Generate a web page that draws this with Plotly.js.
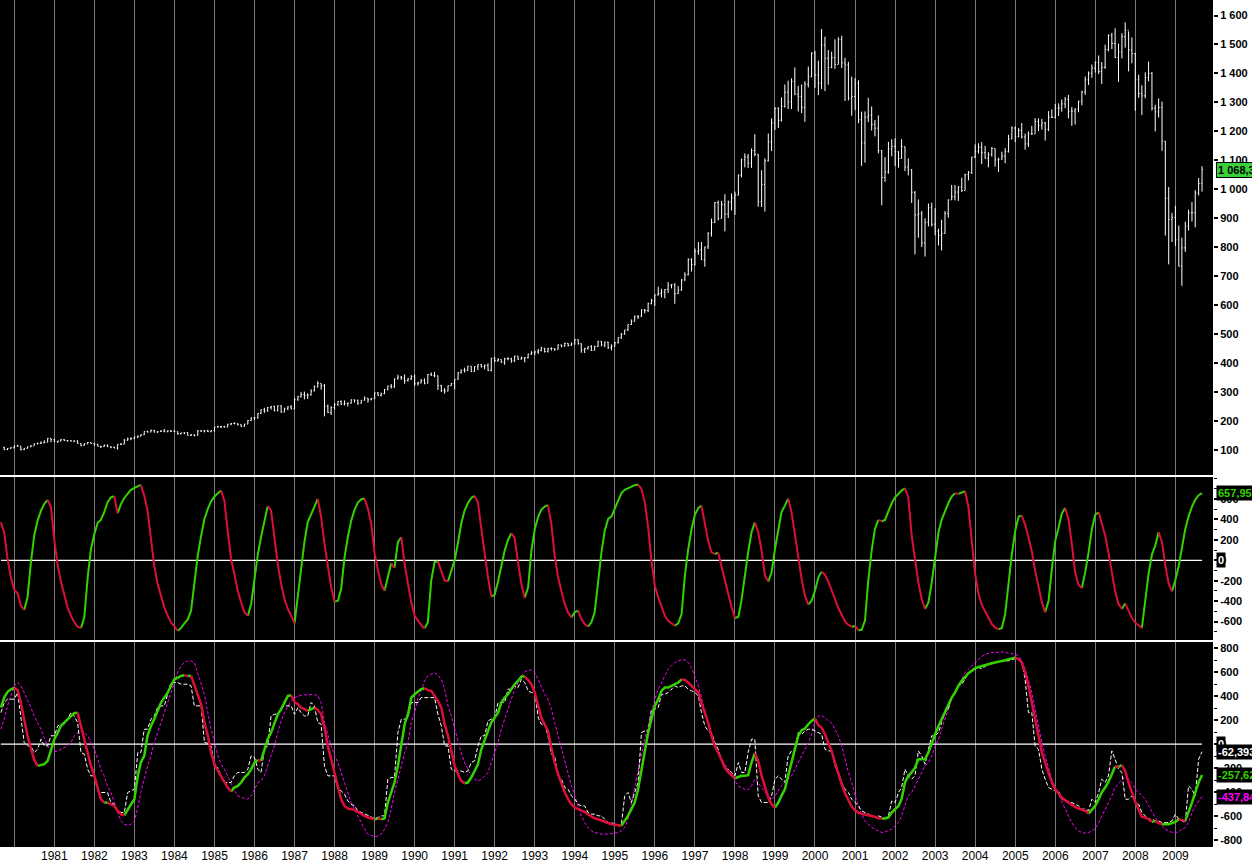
<!DOCTYPE html>
<html>
<head>
<meta charset="utf-8">
<script src="https://cdn.plot.ly/plotly-3.0.1.min.js"></script>
<style>
html,body{margin:0;padding:0;background:#fff;}
#chart{width:1252px;height:866px;}
</style>
</head>
<body>
<div id="chart"></div>
<script>
// ---------------- DATA ----------------
// Monthly bars: Oct 1979 .. Sep 2009
const priceStart = [1979, 10];
const open = [
109.32,101.82,106.16,
107.94,114.16,113.66,102.09,106.29,111.24,114.24,121.67,122.38,125.46,127.47,140.52,
135.76,129.55,131.27,136.00,132.81,132.59,131.21,130.92,122.79,116.18,121.89,126.35,
122.55,120.40,113.11,111.96,116.44,111.88,109.61,107.09,119.51,120.42,133.71,138.54,
140.64,145.30,148.06,152.96,164.42,162.39,168.11,162.56,164.40,166.07,163.55,166.40,
164.93,163.41,157.06,159.18,160.05,150.55,153.18,150.66,166.68,166.10,166.09,163.58,
167.24,179.63,181.18,180.66,179.83,189.55,191.85,190.92,188.63,182.08,189.82,202.17,
211.28,211.78,226.92,238.90,235.52,247.35,250.84,236.12,252.93,231.32,243.98,249.22,
242.17,274.08,284.20,291.70,288.36,290.10,304.00,318.66,329.80,321.83,251.79,230.30,
247.08,257.07,267.82,258.89,261.33,262.16,273.50,272.02,261.52,271.91,278.97,273.70,
277.72,297.47,288.86,294.87,309.64,320.52,317.98,346.08,351.45,349.15,340.36,345.99,
353.40,329.08,331.89,339.94,330.80,361.23,358.02,356.15,322.56,306.05,304.00,322.22,
330.22,343.93,367.07,375.22,375.34,389.83,371.16,387.81,395.43,387.86,392.46,375.22,
417.09,408.79,412.70,403.69,414.95,415.35,408.14,424.21,414.03,417.80,418.68,431.35,
435.71,438.78,443.38,451.67,440.19,450.19,450.53,448.13,463.56,458.93,467.83,461.79,
466.45,481.61,467.14,445.77,450.91,456.50,444.27,458.26,475.49,462.69,472.35,453.69,
459.27,470.42,487.39,500.71,514.71,533.40,544.75,562.06,561.88,584.41,581.50,605.37,
615.93,636.02,640.43,645.50,654.17,669.12,670.63,639.95,651.99,687.31,705.27,757.02,
740.74,786.16,790.82,757.12,801.34,848.28,885.14,954.31,899.47,947.28,914.62,955.40,
970.43,980.28,1049.34,1101.75,1111.75,1090.82,1133.84,1120.67,957.28,1017.01,1098.67,1163.63,
1229.23,1279.64,1238.33,1286.37,1335.18,1301.84,1372.71,1328.72,1320.41,1282.71,1362.93,1388.91,
1469.25,1394.46,1366.42,1498.58,1452.43,1420.60,1454.60,1430.83,1517.68,1436.51,1429.40,1314.95,
1320.28,1366.01,1239.94,1160.33,1249.46,1255.82,1224.42,1211.23,1133.58,1040.94,1059.78,1139.45,
1148.08,1130.20,1106.73,1147.39,1076.92,1067.14,989.82,911.62,916.07,815.28,885.76,936.31,
879.82,855.70,841.15,848.18,916.92,963.59,974.50,990.31,1008.01,995.97,1050.71,1058.20,
1111.92,1131.13,1144.94,1126.21,1107.30,1120.68,1140.84,1101.72,1104.24,1114.58,1130.20,1173.82,
1211.92,1181.27,1203.60,1180.59,1156.85,1191.50,1191.33,1234.18,1220.33,1228.81,1207.01,1249.48,
1248.29,1280.08,1280.66,1294.83,1310.61,1270.09,1270.20,1276.66,1303.82,1335.85,1377.94,1400.63,
1418.30,1438.24,1406.82,1420.86,1482.37,1530.62,1503.35,1455.27,1473.99,1526.75,1549.38,1481.14,
1468.36,1378.55,1330.63,1322.70,1385.59,1400.38,1280.00,1267.38,1282.83,1166.36,968.75,896.24,
903.25,825.88,735.09,797.87,872.81,919.14,919.32,987.48,1020.62
];
const high = [
111.3,107.0,110.0,
115.2,118.4,113.8,106.3,111.9,117.1,122.9,126.0,130.4,134.0,141.9,141.0,
138.1,131.9,137.7,138.4,134.2,134.0,133.5,134.0,123.0,123.9,127.5,126.9,
122.8,121.4,113.8,119.3,119.5,112.1,112.1,120.3,124.7,138.4,143.0,143.7,
146.4,149.9,154.2,164.9,167.1,170.6,169.6,164.4,168.9,172.7,168.1,168.8,
169.5,163.8,159.9,161.0,162.1,155.3,153.9,168.8,167.7,168.9,170.4,168.3,
180.3,183.9,183.2,183.6,190.3,192.5,196.2,192.7,188.6,190.7,203.4,213.1,
213.0,227.6,240.6,245.9,248.3,251.9,253.0,254.2,254.5,246.1,251.2,254.9,
280.0,287.4,301.0,301.9,296.2,309.7,323.0,338.0,329.6,328.0,257.2,251.1,
262.7,268.6,271.4,271.3,263.4,275.0,274.0,274.0,272.6,284.8,280.2,279.9,
298.1,300.3,298.3,310.5,322.1,328.0,347.0,360.2,356.0,361.0,348.6,359.0,
360.6,336.1,345.7,347.3,362.3,367.9,369.8,357.0,325.3,314.0,323.0,331.4,
344.0,369.7,378.3,384.5,390.5,389.8,389.5,396.6,396.3,395.5,399.0,418.3,
420.8,417.3,413.2,418.4,420.5,418.5,425.5,425.1,422.4,420.7,432.2,441.3,
443.0,449.5,456.7,452.3,453.1,455.0,451.0,464.4,463.6,470.9,469.0,471.3,
482,482,468,453,458,462,460,477,476,474,474,465,
473,490,504,515,534,551,564,565,586,587,609,622,
636,664,657,656,680,673,676,666,690,714,762,762,
796,818,818,802,852,899,956,961,960,983,961,986,
992,1051,1106,1124,1122,1141,1190,1121,1066,1107,1193,1245,
1283,1283,1317,1362,1375,1383,1421,1357,1362,1373,1424,1473,
1478,1444,1553,1527,1481,1475,1518,1525,1530,1454,1440,1389,
1384,1376,1268,1269,1316,1286,1239,1255,1136,1111,1164,1173,
1176,1131,1173,1147,1107,1070,994,965,925,900,951,954,
935,864,895,925,965,1015,1015,1011,1040,1054,1063,1112,
1155,1159,1163,1150,1128,1146,1141,1109,1130,1142,1188,1217,
1217,1212,1229,1192,1200,1219,1246,1245,1243,1233,1270,1276,
1295,1297,1310,1319,1326,1284,1280,1306,1340,1389,1407,1431,
1441,1462,1439,1499,1535,1540,1556,1503,1539,1576,1545,1524,
1471,1396,1359,1404,1441,1405,1292,1314,1303,1167,1008,919,
943,875,833,888,930,956,997,1039,1080
];
const low = [
99.6,99.9,105.0,
105.9,112.4,98.2,99.8,105.2,110.5,114.9,119.8,121.0,123.5,126.3,127.3,
127.9,124.7,129.9,131.5,128.9,130.0,127.7,122.3,112.8,115.0,120.3,121.8,
114.7,112.8,106.7,111.5,110.7,106.3,106.6,101.4,118.0,120.2,132.5,133.8,
137.6,141.6,147.7,152.0,160.5,161.7,160.4,158.5,163.0,161.7,161.4,162.3,
162.8,152.2,153.6,154.4,150.3,148.8,147.3,150.9,162.4,160.9,162.5,161.5,
163.4,177.6,175.9,177.9,178.4,185.7,189.4,184.7,179.7,181.3,189.1,200.1,
203.5,208.4,224.3,228.3,232.1,239.6,233.6,233.7,228.7,230.6,237.2,241.0,
242.2,270.1,281.5,275.0,276.4,288.5,303.0,315.8,308.6,216.5,227.7,221.2,
239.4,253.0,256.1,254.4,250.9,260.6,263.7,256.0,261.2,270.9,263.6,272.0,
275.3,286.9,285.4,293.0,306.2,312.6,315.3,343.4,342.3,328.9,336.2,341.5,
321.4,322.1,330.6,327.0,330.1,356.3,351.0,307.4,300.1,294.5,302.8,321.4,
309.4,343.1,364.2,367.7,373.4,369.0,370.9,375.7,384.7,379.0,373.3,371.4,
403.4,404.5,400.9,394.5,409.9,401.4,403.9,410.8,412.6,402.7,416.5,428.6,
426.9,431.9,440.9,436.7,436.6,443.3,442.5,446.9,454.8,457.5,457.1,460.3,
464,464,436,435,447,442,444,456,458,455,449,444,
457,468,484,498,511,532,544,552,560,572,576,603,
597,633,627,624,642,658,605,639,650,684,703,716,
737,774,756,733,794,837,884,893,899,855,901,927,
912,979,1041,1076,1074,1074,1114,940,939,923,1096,1132,
1205,1212,1234,1282,1277,1277,1326,1269,1263,1233,1352,1387,
1350,1325,1346,1339,1361,1418,1416,1431,1419,1305,1307,1254,
1274,1228,1081,1092,1232,1203,1183,1124,945,1026,1054,1114,
1081,1075,1107,1063,1048,953,775,833,801,768,872,872,
841,806,789,847,902,963,962,960,991,996,1031,1053,
1108,1124,1087,1106,1076,1113,1078,1060,1102,1090,1127,1173,
1163,1180,1176,1137,1146,1188,1192,1201,1206,1168,1201,1246,
1245,1253,1268,1280,1245,1219,1224,1266,1290,1326,1360,1385,
1403,1398,1364,1416,1476,1484,1453,1371,1452,1489,1407,1435,
1271,1316,1257,1314,1373,1272,1200,1248,1133,840,741,818,
805,734,667,784,858,889,869,979,992
];
const close = [
101.82,106.16,107.94,
114.16,113.66,102.09,106.29,111.24,114.24,121.67,122.38,125.46,127.47,140.52,135.76,
129.55,131.27,136.00,132.81,132.59,131.21,130.92,122.79,116.18,121.89,126.35,122.55,
120.40,113.11,111.96,116.44,111.88,109.61,107.09,119.51,120.42,133.71,138.54,140.64,
145.30,148.06,152.96,164.42,162.39,168.11,162.56,164.40,166.07,163.55,166.40,164.93,
163.41,157.06,159.18,160.05,150.55,153.18,150.66,166.68,166.10,166.09,163.58,167.24,
179.63,181.18,180.66,179.83,189.55,191.85,190.92,188.63,182.08,189.82,202.17,211.28,
211.78,226.92,238.90,235.52,247.35,250.84,236.12,252.93,231.32,243.98,249.22,242.17,
274.08,284.20,291.70,288.36,290.10,304.00,318.66,329.80,321.83,251.79,230.30,247.08,
257.07,267.82,258.89,261.33,262.16,273.50,272.02,261.52,271.91,278.97,273.70,277.72,
297.47,288.86,294.87,309.64,320.52,317.98,346.08,351.45,349.15,340.36,345.99,353.40,
329.08,331.89,339.94,330.80,361.23,358.02,356.15,322.56,306.05,304.00,322.22,330.22,
343.93,367.07,375.22,375.34,389.83,371.16,387.81,395.43,387.86,392.46,375.22,417.09,
408.79,412.70,403.69,414.95,415.35,408.14,424.21,414.03,417.80,418.68,431.35,435.71,
438.78,443.38,451.67,440.19,450.19,450.53,448.13,463.56,458.93,467.83,461.79,466.45,
481.61,467.14,445.77,450.91,456.50,444.27,458.26,475.49,462.69,472.35,453.69,459.27,
470.42,487.39,500.71,514.71,533.40,544.75,562.06,561.88,584.41,581.50,605.37,615.93,
636.02,640.43,645.50,654.17,669.12,670.63,639.95,651.99,687.31,705.27,757.02,740.74,
786.16,790.82,757.12,801.34,848.28,885.14,954.31,899.47,947.28,914.62,955.40,970.43,
980.28,1049.34,1101.75,1111.75,1090.82,1133.84,1120.67,957.28,1017.01,1098.67,1163.63,1229.23,
1279.64,1238.33,1286.37,1335.18,1301.84,1372.71,1328.72,1320.41,1282.71,1362.93,1388.91,1469.25,
1394.46,1366.42,1498.58,1452.43,1420.60,1454.60,1430.83,1517.68,1436.51,1429.40,1314.95,1320.28,
1366.01,1239.94,1160.33,1249.46,1255.82,1224.42,1211.23,1133.58,1040.94,1059.78,1139.45,1148.08,
1130.20,1106.73,1147.39,1076.92,1067.14,989.82,911.62,916.07,815.28,885.76,936.31,879.82,
855.70,841.15,848.18,916.92,963.59,974.50,990.31,1008.01,995.97,1050.71,1058.20,1111.92,
1131.13,1144.94,1126.21,1107.30,1120.68,1140.84,1101.72,1104.24,1114.58,1130.20,1173.82,1211.92,
1181.27,1203.60,1180.59,1156.85,1191.50,1191.33,1234.18,1220.33,1228.81,1207.01,1249.48,1248.29,
1280.08,1280.66,1294.83,1310.61,1270.09,1270.20,1276.66,1303.82,1335.85,1377.94,1400.63,1418.30,
1438.24,1406.82,1420.86,1482.37,1530.62,1503.35,1455.27,1473.99,1526.75,1549.38,1481.14,1468.36,
1378.55,1330.63,1322.70,1385.59,1400.38,1280.00,1267.38,1282.83,1166.36,968.75,896.24,903.25,
825.88,735.09,797.87,872.81,919.14,919.32,987.48,1020.62,1068.3
];

// Indicators: Sep 1979 .. Sep 2009
const indStart = [1979, 9];
// middle panel oscillator
const osc = [
373,275,13,-167,-291,-324,-445,-487,-363,-20,
242,389,487,553,592,520,193,-52,-206,-330,
-461,-543,-608,-651,-664,-559,-167,111,258,370,
396,471,569,618,628,461,553,611,657,690,
710,726,739,634,487,193,-52,-232,-356,-461,
-543,-608,-651,-690,-664,-618,-582,-494,-199,46,
242,405,504,579,625,661,683,585,291,13,
-134,-298,-412,-510,-543,-428,-183,62,226,389,
530,487,226,-36,-232,-379,-477,-543,-615,-330,
-85,177,373,455,536,602,422,160,-69,-265,
-405,-396,-281,29,226,389,494,566,598,605,
504,356,62,-101,-232,-298,-167,-29,-75,177,
226,-36,-232,-412,-543,-598,-634,-667,-608,-199,
-20,-10,-108,-199,-206,-101,3,177,356,487,
559,611,631,569,307,46,-167,-356,-337,-206,
-69,95,199,265,219,-20,-232,-370,-265,95,
307,428,494,526,540,356,46,-167,-304,-428,
-513,-559,-507,-494,-576,-625,-651,-608,-510,-199,
78,291,405,428,504,585,657,690,706,719,
736,742,700,569,324,-3,-249,-363,-461,-543,
-592,-615,-641,-618,-526,-150,111,307,448,513,
536,340,193,78,62,75,-52,-199,-330,-461,
-566,-553,-396,-150,78,275,373,275,95,-150,
-209,-118,111,291,471,536,605,471,258,13,
-183,-347,-435,-396,-298,-167,-111,-141,-206,-291,
-389,-468,-533,-598,-634,-651,-647,-683,-683,-592,
-199,95,307,396,383,396,481,559,618,657,
683,706,618,242,3,-216,-379,-477,-412,-216,
46,275,396,481,559,625,657,651,667,677,
520,193,-134,-330,-435,-500,-566,-625,-657,-677,
-664,-526,-199,62,291,428,438,350,226,88,
-101,-265,-412,-510,-396,-85,193,324,455,513,
405,160,-118,-239,-271,-118,78,307,448,471,
373,242,78,-134,-304,-428,-477,-422,-500,-566,
-611,-634,-664,-379,-134,56,144,275,177,-52,
-232,-304,-193,-52,111,307,428,526,592,638,
657.95
];
// bottom panel: smoothed line (green/red)
const sig = [
306,389,437,459,470,453,348,195,70,-36,
-131,-181,-175,-167,-139,-42,42,97,153,181,
209,236,259,262,153,42,-70,-181,-264,-376,
-459,-487,-487,-501,-515,-556,-584,-593,-542,-501,
-459,-264,-153,-97,70,153,209,278,348,389,
431,487,542,556,570,576,570,570,487,403,
334,181,70,-70,-167,-223,-264,-320,-362,-395,
-362,-348,-320,-278,-250,-209,-153,-131,-139,-42,
42,97,181,250,292,348,403,409,353,334,
306,292,278,292,306,287,250,139,-14,-125,
-236,-376,-459,-515,-537,-542,-548,-565,-584,-598,
-612,-620,-626,-620,-626,-620,-487,-403,-320,-181,
14,167,250,389,417,437,459,467,451,445,
403,362,306,167,70,-56,-181,-250,-306,-325,
-320,-278,-223,-167,-42,42,111,181,223,264,
348,389,417,459,501,529,565,565,537,501,
431,320,223,167,111,-28,-153,-250,-334,-403,
-459,-501,-529,-540,-548,-565,-587,-604,-618,-626,
-637,-645,-659,-668,-670,-676,-682,-640,-598,-542,
-487,-376,-209,-70,97,209,320,376,445,473,
473,487,501,515,540,537,515,487,459,431,
348,264,181,70,-14,-70,-139,-195,-236,-264,
-284,-273,-264,-264,-259,-153,-75,-139,-264,-362,
-445,-501,-529,-487,-431,-376,-264,-153,-42,70,
117,131,167,195,214,159,139,83,14,-56,
-153,-250,-334,-409,-473,-520,-554,-573,-581,-587,
-593,-595,-606,-618,-620,-620,-612,-570,-542,-515,
-459,-320,-264,-236,-195,-125,-125,-125,-70,14,
83,153,209,264,320,389,431,487,529,562,
593,612,634,645,654,659,668,676,682,687,
696,701,709,718,723,709,682,598,487,348,
236,70,-70,-153,-236,-320,-376,-417,-445,-467,
-487,-506,-523,-537,-548,-556,-579,-548,-515,-459,
-403,-362,-314,-250,-186,-189,-175,-223,-320,-403,
-481,-548,-606,-612,-626,-648,-640,-659,-668,-668,
-668,-659,-648,-626,-634,-640,-570,-487,-403,-320,
-257.62
];
// bottom panel: raw line (white dashed)
const raw = [
264,348,376,376,376,431,209,14,-14,-14,
-70,-42,42,-14,-14,70,70,153,167,167,
209,264,236,181,-70,-83,-209,-264,-264,-389,
-403,-403,-403,-487,-501,-556,-570,-570,-403,-389,
-376,-70,-70,125,125,209,236,306,320,320,
417,515,515,515,501,501,501,487,320,320,
320,14,8,-14,-195,-195,-264,-320,-320,-320,
-264,-236,-236,-236,-209,-97,-111,-209,-236,-42,
-14,236,250,250,306,320,320,320,250,306,
264,236,236,348,320,181,167,-181,-264,-264,
-264,-376,-389,-417,-473,-501,-515,-556,-570,-584,
-598,-612,-620,-612,-598,-598,-292,-278,-278,97,
209,209,223,348,348,348,389,389,389,389,
389,250,153,-14,-14,-209,-223,-223,-223,-236,
-223,-153,-139,-14,70,70,195,209,223,348,
348,348,459,459,487,473,542,515,445,431,
431,223,167,167,70,-83,-97,-264,-292,-362,
-376,-431,-459,-501,-515,-515,-570,-584,-584,-598,
-598,-626,-654,-654,-668,-676,-676,-431,-403,-487,
-403,-320,97,111,111,292,292,306,417,417,
431,459,487,473,487,487,459,445,431,403,
264,153,111,97,14,-42,-139,-209,-209,-236,
-264,-153,-236,-236,-70,42,42,-431,-487,-487,
-487,-431,-292,-264,-292,-320,-97,-56,-56,97,
83,111,125,125,111,97,83,-42,-56,-56,
-181,-236,-320,-376,-403,-459,-487,-515,-556,-570,
-584,-598,-612,-598,-612,-620,-598,-473,-487,-403,
-362,-209,-264,-292,-264,-56,-97,-167,-42,70,
70,97,181,264,292,389,431,487,501,542,
598,626,626,640,632,648,668,682,682,687,
696,696,696,704,715,709,696,542,264,264,
-14,-42,-209,-292,-362,-376,-389,-389,-459,-473,
-487,-487,-501,-515,-542,-542,-556,-459,-487,-403,
-292,-320,-264,-56,-125,-209,-236,-459,-459,-431,
-487,-501,-570,-598,-626,-626,-640,-640,-654,-654,
-654,-640,-584,-626,-640,-654,-348,-376,-431,-125,
-62.393
];
// bottom panel: slow line (magenta dashed)
const slow = [
125,209,320,403,487,515,487,431,376,306,
236,181,125,56,-14,-56,-64,-56,-42,-28,
-14,14,70,97,111,97,70,14,-42,-125,
-209,-264,-348,-403,-487,-570,-640,-668,-676,-668,
-640,-529,-403,-292,-181,-97,14,97,181,264,
348,431,515,598,654,682,696,696,682,598,
515,417,264,125,14,-97,-167,-209,-264,-334,
-389,-431,-445,-453,-459,-431,-376,-320,-306,-264,
-181,-97,-14,97,195,264,320,362,389,403,
409,412,412,412,415,403,348,181,70,-14,
-97,-153,-236,-320,-403,-487,-542,-598,-654,-709,
-751,-765,-773,-765,-751,-709,-654,-542,-403,-292,
-167,-70,14,181,264,389,445,529,570,584,
598,576,542,459,320,236,125,14,-70,-153,
-209,-264,-292,-306,-292,-264,-236,-153,-70,14,
125,209,292,376,459,515,570,604,618,620,
598,542,487,417,376,292,181,70,-42,-153,
-264,-348,-431,-515,-598,-654,-696,-723,-737,-743,
-751,-751,-751,-746,-743,-737,-723,-696,-626,-487,
-348,-209,-97,42,153,264,376,459,515,570,
626,654,682,696,704,704,682,640,570,487,
389,292,181,83,14,-56,-125,-167,-209,-250,
-306,-348,-362,-376,-381,-348,-292,-320,-362,-403,
-431,-459,-431,-389,-348,-320,-292,-264,-209,-153,
-97,-42,14,83,190,235,239,223,195,175,
125,70,-14,-125,-236,-320,-431,-515,-584,-640,
-668,-696,-709,-723,-737,-732,-723,-709,-682,-654,
-598,-515,-431,-403,-348,-292,-236,-181,-153,-97,
-14,42,125,209,292,376,431,487,542,598,
626,654,682,709,732,751,759,765,765,771,
771,765,759,757,751,737,696,626,542,431,
292,153,14,-97,-209,-292,-362,-426,-487,-542,
-598,-654,-696,-723,-737,-743,-737,-723,-704,-654,
-598,-542,-487,-431,-362,-334,-292,-278,-292,-320,
-376,-403,-431,-459,-515,-570,-612,-654,-682,-709,
-723,-737,-737,-732,-709,-696,-654,-570,-515,-473,
-437.84
];

// ---------------- BUILD ----------------
function monthSeq(start, n) {
  const out = [];
  for (let i = 0; i < n; i++) {
    const t = start[1] - 1 + i;
    const y = start[0] + Math.floor(t / 12);
    const m = (t % 12) + 1;
    out.push(y + '-' + String(m).padStart(2, '0') + '-01');
  }
  return out;
}
const priceDates = monthSeq(priceStart, close.length);
const indDates = monthSeq(indStart, osc.length);

const GREEN = '#35d100';
const RED = '#dc0f3c';
const MAGENTA = '#ff00ff';

function colorSegments(xs, ys) {
  const g = {x: [], y: []}, r = {x: [], y: []};
  let last = null;
  for (let i = 0; i < ys.length - 1; i++) {
    const up = ys[i + 1] >= ys[i];
    const key = up ? 'g' : 'r';
    const t = up ? g : r;
    if (last !== key) {
      if (t.x.length) { t.x.push(null); t.y.push(null); }
      t.x.push(xs[i]); t.y.push(ys[i]);
    }
    t.x.push(xs[i + 1]); t.y.push(ys[i + 1]);
    last = key;
  }
  return [g, r];
}

const [oscG, oscR] = colorSegments(indDates, osc);
const [sigG, sigR] = colorSegments(indDates, sig);

const first = indDates[0], lastD = indDates[indDates.length - 1];

const traces = [
  {type: 'ohlc', x: priceDates, open: open, high: high, low: low, close: close,
   xaxis: 'x', yaxis: 'y', tickwidth: 0.3,
   increasing: {line: {color: '#ffffff', width: 1}},
   decreasing: {line: {color: '#ffffff', width: 1}},
   hoverinfo: 'skip', showlegend: false},
  {type: 'scatter', mode: 'lines', x: [first, lastD], y: [0, 0], xaxis: 'x', yaxis: 'y2',
   line: {color: '#ffffff', width: 1.2}, hoverinfo: 'skip', showlegend: false},
  {type: 'scatter', mode: 'lines', x: oscG.x, y: oscG.y, xaxis: 'x', yaxis: 'y2',
   line: {color: GREEN, width: 2}, connectgaps: false, hoverinfo: 'skip', showlegend: false},
  {type: 'scatter', mode: 'lines', x: oscR.x, y: oscR.y, xaxis: 'x', yaxis: 'y2',
   line: {color: RED, width: 2}, connectgaps: false, hoverinfo: 'skip', showlegend: false},
  {type: 'scatter', mode: 'lines', x: [first, lastD], y: [0, 0], xaxis: 'x', yaxis: 'y3',
   line: {color: '#ffffff', width: 1.2}, hoverinfo: 'skip', showlegend: false},
  {type: 'scatter', mode: 'lines', x: indDates, y: slow, xaxis: 'x', yaxis: 'y3',
   line: {color: MAGENTA, width: 1, dash: '3px,2px'}, hoverinfo: 'skip', showlegend: false},
  {type: 'scatter', mode: 'lines', x: indDates, y: raw, xaxis: 'x', yaxis: 'y3',
   line: {color: '#ffffff', width: 1, dash: '4px,2px'}, hoverinfo: 'skip', showlegend: false},
  {type: 'scatter', mode: 'lines', x: sigG.x, y: sigG.y, xaxis: 'x', yaxis: 'y3',
   line: {color: GREEN, width: 2.5}, connectgaps: false, hoverinfo: 'skip', showlegend: false},
  {type: 'scatter', mode: 'lines', x: sigR.x, y: sigR.y, xaxis: 'x', yaxis: 'y3',
   line: {color: RED, width: 2.5}, connectgaps: false, hoverinfo: 'skip', showlegend: false}
];

// ticks
const FONT = 'Liberation Sans, Arial, Helvetica, sans-serif';
function fmtThousands(v) {
  const s = String(Math.abs(v));
  const parts = [];
  for (let i = s.length; i > 0; i -= 3) parts.unshift(s.slice(Math.max(0, i - 3), i));
  return (v < 0 ? '-' : '') + parts.join(' ');
}
function fmtDec(v) {
  const neg = v < 0;
  const s = String(Math.abs(v));
  const [ip, dp] = s.split('.');
  return (neg ? '-' : '') + fmtThousands(Number(ip)) + (dp ? ',' + dp : '');
}
const topVals = []; for (let v = 100; v <= 1600; v += 100) topVals.push(v);
const midVals = []; for (let v = -600; v <= 600; v += 200) midVals.push(v);
const botVals = []; for (let v = -800; v <= 800; v += 200) botVals.push(v);

const yCommon = {
  side: 'right', anchor: 'x', showgrid: false, zeroline: false, showline: false,
  ticks: 'outside', ticklen: 4, tickwidth: 2, tickcolor: '#000000',
  tickfont: {family: FONT, size: 11, color: '#000000', weight: 'bold'},
  fixedrange: true, tickmode: 'array'
};

const xTickVals = [], xTickText = [];
for (let y = 1980; y <= 2009; y++) {
  xTickVals.push(y + '-01-01');
  xTickText.push(y === 1980 ? '' : String(y));
}

const plotW = 1213;
function px2paper(px) { return px / plotW; }

function valueLabel(yref, val, text, color, bg) {
  return {xref: 'paper', yref: yref, x: px2paper(1216), y: val, xanchor: 'left', yanchor: 'middle',
    text: text, showarrow: false, bgcolor: bg, borderpad: 1,
    font: {family: FONT, size: 11, color: color, weight: 'bold'}};
}

const annotations = [
  Object.assign(valueLabel('y', close[close.length - 1], fmtDec(close[close.length - 1]), '#000000', '#3ad03a'),
    {bordercolor: '#000000', borderwidth: 1}),
  valueLabel('y2', osc[osc.length - 1], fmtDec(osc[osc.length - 1]), GREEN, '#000000'),
  valueLabel('y2', 0, '0', '#ffffff', '#000000'),
  valueLabel('y3', 0, '0', '#ffffff', '#000000'),
  valueLabel('y3', raw[raw.length - 1], fmtDec(raw[raw.length - 1]), '#ffffff', '#000000'),
  valueLabel('y3', sig[sig.length - 1], fmtDec(sig[sig.length - 1]), GREEN, '#000000'),
  valueLabel('y3', slow[slow.length - 1], fmtDec(slow[slow.length - 1]), MAGENTA, '#000000')
];

const layout = {
  width: 1252, height: 866,
  margin: {l: 0, r: 39, t: 0, b: 19, pad: 0},
  paper_bgcolor: '#ffffff', plot_bgcolor: '#000000',
  font: {family: FONT, size: 12, color: '#000000'},
  showlegend: false,
  xaxis: {
    type: 'date', domain: [0, 1], anchor: 'y3',
    range: ['1979-08-24', '2009-12-10'],
    rangeslider: {visible: false},
    showgrid: true, gridcolor: '#7a7a7a', gridwidth: 1,
    tickmode: 'array', tickvals: xTickVals, ticktext: xTickText,
    ticks: '', showline: false, zeroline: false,
    tickfont: {family: FONT, size: 12, color: '#000000'},
    fixedrange: true
  },
  yaxis: Object.assign({}, yCommon, {
    domain: [0.4392, 1], range: [14, 1653.5],
    tickvals: topVals, ticktext: topVals.map(fmtThousands)
  }),
  yaxis2: Object.assign({}, yCommon, {
    domain: [0.2444, 0.4368], range: [-781, 816],
    tickvals: midVals, ticktext: midVals.map(fmtThousands),
    minor: {tickmode: 'linear', tick0: 0, dtick: 100, ticks: 'outside', ticklen: 3, tickwidth: 1, tickcolor: '#000000'}
  }),
  yaxis3: Object.assign({}, yCommon, {
    domain: [0, 0.2420], range: [-858, 853],
    tickvals: botVals, ticktext: botVals.map(fmtThousands),
    minor: {tickmode: 'linear', tick0: 0, dtick: 100, ticks: 'outside', ticklen: 3, tickwidth: 1, tickcolor: '#000000'}
  }),
  annotations: annotations
};

Plotly.newPlot('chart', traces, layout, {displayModeBar: false, staticPlot: true});
</script>
</body>
</html>
